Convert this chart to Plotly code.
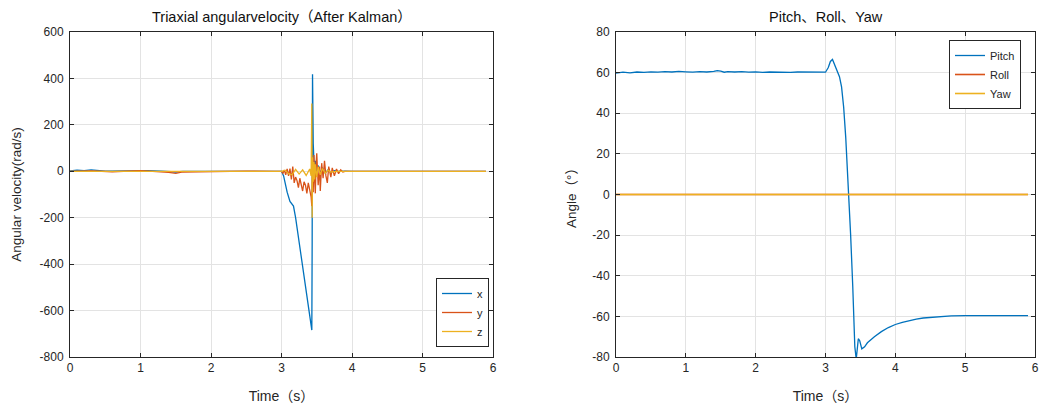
import plotly.graph_objects as go

# ---------------- Left plot data: triaxial angular velocity (after Kalman) ----------------
t_x = [0, 0.1, 0.2, 0.3, 0.5, 0.8, 1.0, 1.1, 1.3, 1.5, 1.6, 2.0, 2.5, 2.9, 3.0, 3.03, 3.08, 3.12, 3.17,
       3.2, 3.25, 3.3, 3.35, 3.4, 3.42, 3.43, 3.435, 3.44, 3.45, 3.46, 3.47, 3.48, 3.5, 3.52, 3.55,
       3.58, 3.62, 3.66, 3.7, 3.75, 3.8, 3.9, 4.0, 5.0, 5.9]
v_x = [2, 5, 3, 6, 1, 2, 5, 3, 1, -3, 0, 1, 0, 0, 0, -20, -90, -130, -150,
       -200, -310, -420, -530, -640, -680, -684, -300, 418, 120, 60, -30, 45, -20, 25, -10,
       15, -8, 6, -4, 3, 0, 1, 0, 0, 0]

t_y = [0, 0.3, 0.6, 1.0, 1.4, 1.5, 1.6, 2.0, 2.5, 2.9,
       3.0, 3.02, 3.04, 3.06, 3.08, 3.1, 3.12, 3.14, 3.16, 3.18, 3.2, 3.22, 3.24, 3.26, 3.28, 3.3,
       3.32, 3.34, 3.36, 3.38, 3.4, 3.42, 3.43, 3.44, 3.45, 3.46, 3.47, 3.48, 3.49, 3.5, 3.52, 3.54,
       3.55, 3.57, 3.59, 3.61, 3.63, 3.65, 3.67, 3.7, 3.72, 3.75, 3.78, 3.81, 3.84, 3.87, 3.9, 4.5, 5.9]
v_y = [0, 2, -2, 3, -5, -9, -3, 0, 1, 0,
       0, -8, 5, -15, 10, -20, 12, -35, 20, -50, -25, -40, -70, -30, -55, -85,
       -45, -60, -95, -50, -80, -110, -150, 20, -90, 70, -40, -95, 30, 78, -60, 20,
       -85, 35, -30, 45, -20, -50, 20, -25, 15, -20, 10, -10, 6, -3, 0, 0, 0]

t_z = [0, 1.0, 2.0, 3.0, 3.05, 3.1, 3.15, 3.2, 3.25, 3.3, 3.35, 3.4, 3.42, 3.43, 3.435, 3.44, 3.45,
       3.46, 3.47, 3.48, 3.5, 3.52, 3.55, 3.58, 3.62, 3.66, 3.7, 3.8, 4.5, 5.9]
v_z = [0, 1, 0, 0, 5, -10, -15, 8, -12, 6, -18, 10, -20, 292, -200, 60, -45,
       40, -35, 30, -25, 20, -15, 12, -8, 5, -3, 0, 0, 0]

# ---------------- Right plot data: Pitch, Roll, Yaw ----------------
t_pitch = [0, 0.1, 0.2, 0.3, 0.4, 0.5, 0.6, 0.7, 0.8, 0.9, 1.0, 1.1, 1.2, 1.3, 1.4, 1.45, 1.5, 1.55,
           1.6, 1.7, 1.8, 1.9, 2.0, 2.1, 2.2, 2.3, 2.4, 2.5, 2.6, 2.7, 2.8, 2.9, 3.0, 3.04, 3.07,
           3.1, 3.13, 3.16, 3.2, 3.23, 3.26, 3.29, 3.31, 3.33, 3.36, 3.39, 3.42, 3.44, 3.47, 3.49,
           3.52, 3.56, 3.6, 3.7, 3.8, 3.9, 4.0, 4.1, 4.2, 4.3, 4.4, 4.6, 4.8, 5.0, 5.5, 5.9]
v_pitch = [59.8, 60.2, 59.9, 60.3, 60.1, 60.4, 60.2, 60.5, 60.3, 60.6, 60.4, 60.2, 60.5, 60.3, 60.6,
           61.0, 60.7, 60.2, 60.5, 60.3, 60.5, 60.2, 60.4, 60.1, 60.3, 60.2, 60.4, 60.1, 60.3,
           60.2, 60.3, 60.1, 60.2, 62.5, 65.5, 66.5, 64, 61, 58, 53, 43, 28, 15, 1, -20, -45,
           -75, -81, -71, -72, -76, -75, -73, -70, -67.5, -65.5, -64, -63, -62, -61.3, -60.8,
           -60.2, -59.8, -59.6, -59.5, -59.6]

t_roll = [0, 1, 2, 3, 4, 5, 5.9]
v_roll = [0, 0, 0, 0, 0, 0, 0]
t_yaw = [0, 1, 2, 3, 4, 5, 5.9]
v_yaw = [0, 0, 0, 0, 0, 0, 0]

x_ticks = [0, 1, 2, 3, 4, 5, 6]
left_yticks = [-800, -600, -400, -200, 0, 200, 400, 600]
left_yticktext = ["-800", "-600", "-400", "-200", "0", "200", "400", "600"]
right_yticks = [-80, -60, -40, -20, 0, 20, 40, 60, 80]
right_yticktext = ["-80", "-60", "-40", "-20", "0", "20", "40", "60", "80"]

BLUE = "#0072BD"
ORANGE = "#D95319"
YELLOW = "#EDB120"
AX = "#262626"
GRID = "#E3E3E3"
FONT = "Liberation Sans, Arial, Noto Sans CJK SC, sans-serif"

# body margin is removed by the post script, so the figure fills the window
W, H = 1040, 413


def px(x):
    return x / W


def py(y):
    return (H - y) / H


fig = go.Figure()
fig.add_trace(go.Scatter(x=t_x, y=v_x, mode="lines", name="x", line=dict(color=BLUE, width=1.3),
                         xaxis="x", yaxis="y", legend="legend"))
fig.add_trace(go.Scatter(x=t_y, y=v_y, mode="lines", name="y", line=dict(color=ORANGE, width=1.3),
                         xaxis="x", yaxis="y", legend="legend"))
fig.add_trace(go.Scatter(x=t_z, y=v_z, mode="lines", name="z", line=dict(color=YELLOW, width=1.3),
                         xaxis="x", yaxis="y", legend="legend"))
fig.add_trace(go.Scatter(x=t_pitch, y=v_pitch, mode="lines", name="Pitch", line=dict(color=BLUE, width=1.3),
                         xaxis="x2", yaxis="y2", legend="legend2"))
fig.add_trace(go.Scatter(x=t_roll, y=v_roll, mode="lines", name="Roll", line=dict(color=ORANGE, width=1.6),
                         xaxis="x2", yaxis="y2", legend="legend2"))
fig.add_trace(go.Scatter(x=t_yaw, y=v_yaw, mode="lines", name="Yaw", line=dict(color=YELLOW, width=1.6),
                         xaxis="x2", yaxis="y2", legend="legend2"))

ydom = [py(357), py(32)]

common_axis = dict(showline=True, linecolor=AX, linewidth=1, mirror="ticks", ticks="inside",
                   ticklen=4, tickcolor=AX, showgrid=True, gridcolor=GRID, gridwidth=1,
                   zeroline=False, tickfont=dict(family=FONT, size=12, color=AX),
                   automargin=False, ticklabeloverflow="allow")

xt_font = dict(family=FONT, size=14, color=AX)
yt_font = dict(family=FONT, size=13.5, color=AX)

fig.update_layout(
    width=W, height=H, margin=dict(l=0, r=0, t=0, b=0),
    paper_bgcolor="white", plot_bgcolor="white",
    font=dict(family=FONT, color=AX),
    xaxis=dict(domain=[px(70), px(493)], range=[0, 6], tickvals=x_ticks, anchor="y",
               title=dict(text="Time（s）", font=xt_font, standoff=16), **common_axis),
    yaxis=dict(domain=ydom, range=[-800, 600], tickvals=left_yticks, ticktext=left_yticktext,
               anchor="x", ticklabelstandoff=3,
               title=dict(text="Angular velocity(rad/s)", font=yt_font, standoff=14), **common_axis),
    xaxis2=dict(domain=[px(616), px(1035)], range=[0, 6], tickvals=x_ticks, anchor="y2",
                title=dict(text="Time（s）", font=xt_font, standoff=16), **common_axis),
    yaxis2=dict(domain=ydom, range=[-80, 80], tickvals=right_yticks, ticktext=right_yticktext,
                anchor="x2", ticklabelstandoff=3,
                title=dict(text="Angle（°）", font=yt_font, standoff=12), **common_axis),
    legend=dict(x=px(489), y=py(347), xanchor="right", yanchor="bottom",
                bgcolor="white", bordercolor=AX, borderwidth=1, itemwidth=30,
                font=dict(family=FONT, size=11, color=AX), tracegroupgap=0),
    legend2=dict(x=px(1021), y=py(40), xanchor="right", yanchor="top",
                 bgcolor="white", bordercolor=AX, borderwidth=1, itemwidth=30,
                 font=dict(family=FONT, size=11, color=AX), tracegroupgap=0),
    showlegend=True,
    annotations=[
        dict(text="Triaxial angularvelocity（After Kalman）", x=px((70 + 493) / 2), y=py(17),
             xref="paper", yref="paper", showarrow=False, xanchor="center", yanchor="middle",
             font=dict(family=FONT, size=14.5, color="#111111")),
        dict(text="Pitch、Roll、Yaw", x=px((616 + 1035) / 2), y=py(17),
             xref="paper", yref="paper", showarrow=False, xanchor="center", yanchor="middle",
             font=dict(family=FONT, size=14.5, color="#111111")),
    ],
)

fig.write_html(
    "out.html",
    config={"displayModeBar": False},
    post_script="document.body.style.margin='0';document.body.style.overflow='hidden';",
)
